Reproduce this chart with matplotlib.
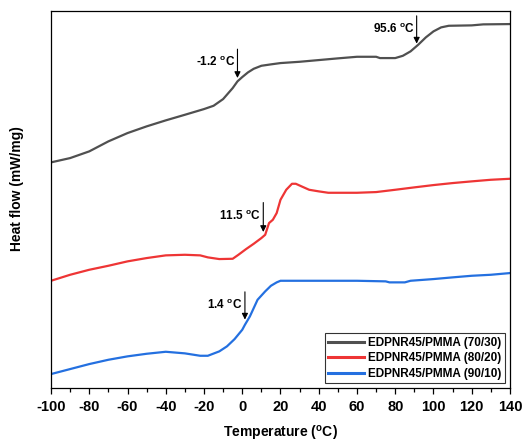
import numpy as np
import matplotlib
matplotlib.use('Agg')
import matplotlib.pyplot as plt
from matplotlib.ticker import MultipleLocator

plt.rcParams.update({
    "font.family": "sans-serif", "font.sans-serif": ["Liberation Sans", "DejaVu Sans"],
    "font.weight": "bold", "axes.unicode_minus": False,
    "mathtext.fontset": "custom", "mathtext.rm": "Liberation Sans:bold",
    "mathtext.bf": "Liberation Sans:bold", "mathtext.it": "Liberation Sans:bold",
    "mathtext.default": "bf",
})

# DSC traces, heat flow in arbitrary (offset) units
t_7030 = [-100, -90, -80, -70, -60, -50, -40, -30, -20, -15, -10, -5, -2.5, 0, 3, 6, 10, 15,
          20, 30, 40, 50, 60, 70, 72, 80, 84, 88, 92, 96, 100, 104, 108, 120, 126, 140]
hf_7030 = [225.7, 230, 236.7, 246.7, 255, 261.7, 267.7, 273.3, 279, 282.3, 289, 300, 306.7,
           311, 315.7, 319.3, 322.3, 323.7, 325, 326.3, 328, 329.7, 331.3, 331.3, 330, 330,
           332.3, 336.7, 343.3, 350.7, 356.7, 360.7, 362.3, 362.7, 363.7, 364]

t_8020 = [-100, -90, -80, -70, -60, -50, -40, -30, -22, -18, -12, -5, -2, 2, 6, 10, 12, 14,
          16, 18, 20, 23, 26, 28, 31, 35, 40, 45, 60, 70, 80, 90, 100, 110, 120, 130, 140]
hf_8020 = [107.3, 113.3, 118.3, 122.3, 126.7, 130, 132.7, 133.3, 132.7, 130.7, 129, 129.3,
           133.3, 139, 144.3, 150, 153.3, 165, 168.3, 175, 188.3, 198.3, 204.3, 204.3, 201.7,
           198.3, 196.7, 195.3, 195.3, 196, 198.3, 200.7, 203, 205, 206.7, 208.3, 209.3]

t_9010 = [-100, -90, -80, -70, -60, -50, -40, -30, -22, -18, -12, -8, -4, 0, 1.4, 4, 8, 12,
          15, 18, 20, 40, 60, 75, 77, 85, 88, 100, 110, 120, 130, 140]
hf_9010 = [14, 19, 24, 28.3, 31.7, 34.3, 36.3, 34.7, 32.3, 32.3, 36.7, 41.7, 49, 58.3, 63.3,
           71.7, 88.3, 96.7, 102.3, 105.7, 107.3, 107.3, 107.3, 106.7, 105.7, 105.7, 107.3,
           109, 110.7, 112.3, 113.3, 115]

labels = ['EDPNR45/PMMA (70/30)', 'EDPNR45/PMMA (80/20)', 'EDPNR45/PMMA (90/10)']
colors = ['#505050', '#ee3535', '#2470e0']

# Tg marks: (arrow x, arrow top, arrow tip, label)
tg_marks = [(-2.5, 341.7, 307.3, '-1.2 $^o$C'),
            (91.2, 375, 341.7, '95.6 $^o$C'),
            (11.0, 188.3, 153.3, '11.5 $^o$C'),
            (1.4, 99, 65.7, '1.4 $^o$C')]

fig = plt.figure(figsize=(5.32, 4.43), dpi=100)
ax = fig.add_axes([0.0959, 0.124, 0.8627, 0.851])

for t, hf, lab, c in zip([t_7030, t_8020, t_9010], [hf_7030, hf_8020, hf_9010], labels, colors):
    ax.plot(t, hf, color=c, lw=1.6, label=lab)

for x, ytop, ytip, txt in tg_marks:
    ax.annotate('', xy=(x, ytip), xytext=(x, ytop),
                arrowprops=dict(arrowstyle='-|>', color='black', lw=0.8, mutation_scale=9))
    ax.text(x - 1.2, (ytop + ytip) / 2 + 1, txt, ha='right', va='center',
            fontsize=8.5, fontweight='bold')

ax.set_xlim(-100, 140)
ax.set_ylim(0, 377)
ax.xaxis.set_major_locator(MultipleLocator(20))
ax.xaxis.set_minor_locator(MultipleLocator(10))
ax.tick_params(axis='x', which='major', length=4.5, width=0.9, labelsize=10.5, pad=4)
ax.tick_params(axis='x', which='minor', length=3, width=0.9)
ax.set_yticks([])
for lbl in ax.get_xticklabels():
    lbl.set_fontweight('bold')
for s in ax.spines.values():
    s.set_linewidth(0.9)

ax.set_xlabel('Temperature ($^o$C)', fontsize=10, fontweight='bold')
ax.xaxis.set_label_coords(0.5, -0.094)
ax.set_ylabel('Heat flow (mW/mg)', fontsize=10, fontweight='bold')
ax.yaxis.set_label_coords(-0.058, 0.53)

leg = ax.legend(loc='lower right', fontsize=8.5, frameon=True, fancybox=False,
                edgecolor='black', handlelength=3.0, handletextpad=0.4,
                borderpad=0.3, labelspacing=0.3, borderaxespad=0.4)
leg.get_frame().set_linewidth(0.8)
for line in leg.get_lines():
    line.set_linewidth(2.2)
for txt in leg.get_texts():
    txt.set_fontweight('bold')

fig.savefig('out.png', dpi=100)
